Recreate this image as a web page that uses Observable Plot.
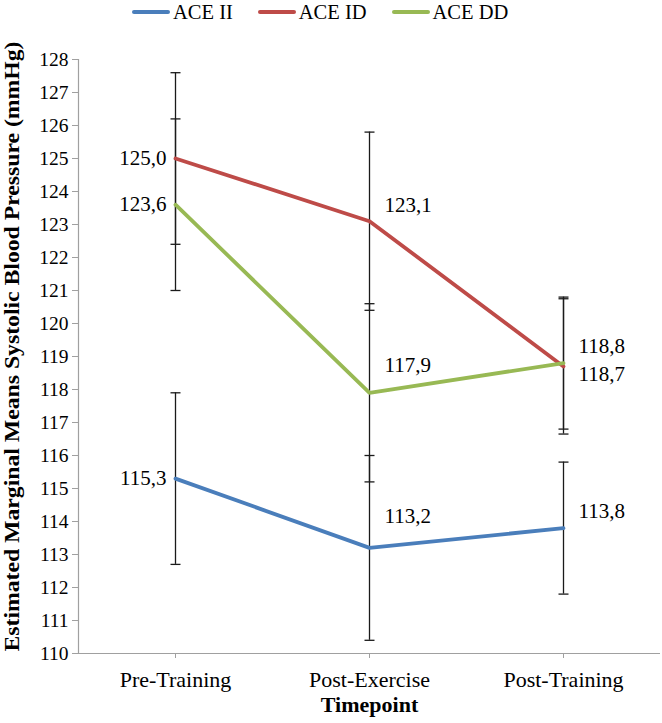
<!DOCTYPE html>
<html>
<head>
<meta charset="utf-8">
<script src="https://cdn.jsdelivr.net/npm/d3@7"></script>
<script src="https://cdn.jsdelivr.net/npm/@observablehq/plot@0.6"></script>
<style>
  body { margin: 0; background: #fff; }
  #wrap { width: 662px; height: 723px; position: relative; font-family: "Liberation Serif", "Times New Roman", Times, "DejaVu Serif", serif; }
  #legend { height: 24px; display: flex; align-items: center; padding-left: 132px; font-size: 20.5px; color: #000; }
  .item { display: flex; align-items: center; margin-right: 25px; }
  .sw { width: 38px; height: 4px; margin-right: 3px; border-radius: 2px; }
  svg { display: block; }
  svg text { font-family: "Liberation Serif", "Times New Roman", Times, "DejaVu Serif", serif; }
</style>
</head>
<body>
<div id="wrap">
  <div id="legend"></div>
  <div id="chart"></div>
</div>
<script>
const timepoints = ["Pre-Training", "Post-Exercise", "Post-Training"];
const seriesNames = ["ACE II", "ACE ID", "ACE DD"];
const seriesColors = ["#4a7ebb", "#be4b48", "#98b954"];
const valuesII = [115.3, 113.2, 113.8];
const valuesID = [125.0, 123.1, 118.7];
const valuesDD = [123.6, 117.9, 118.8];
const errorsII = [2.6, 2.8, 2.0];
const errorsID = [2.6, 2.7, 2.05];
const errorsDD = [2.6, 2.7, 2.0];
const valueLabelsII = ["115,3", "113,2", "113,8"];
const valueLabelsID = ["125,0", "123,1", "118,7"];
const valueLabelsDD = ["123,6", "117,9", "118,8"];
const yTicks = d3.range(110, 129, 1);

const seriesValues = [valuesII, valuesID, valuesDD];
const seriesErrors = [errorsII, errorsID, errorsDD];
const seriesLabels = [valueLabelsII, valueLabelsID, valueLabelsDD];

// label placement (pixel nudges), by series index then timepoint index
const labelDy = [[0, -32, -17], [0, -16, 8], [0, -28, -17]];

const data = [];
seriesNames.forEach((s, si) => {
  timepoints.forEach((t, ti) => {
    data.push({
      series: s, si, t: ti,
      value: seriesValues[si][ti],
      lo: seriesValues[si][ti] - seriesErrors[si][ti],
      hi: seriesValues[si][ti] + seriesErrors[si][ti],
      label: seriesLabels[si][ti]
    });
  });
});

// legend
const legend = document.getElementById("legend");
seriesNames.forEach((s, i) => {
  const it = document.createElement("div");
  it.className = "item";
  it.innerHTML = `<div class="sw" style="background:${seriesColors[i]}"></div><span>${s}</span>`;
  legend.appendChild(it);
});

const capSymbol = {
  draw(context, size) {
    const w = Math.sqrt(size / Math.PI);
    context.moveTo(-w, 0);
    context.lineTo(w, 0);
  }
};

const errColor = "#1a1a1a";
const axisGrey = "#a0a0a0";
const yTitle = "Estimated Marginal Means Systolic Blood Pressure (mmHg)";

const leftLabels = data.filter(d => d.t === 0);
const rightLabelMarks = data.filter(d => d.t > 0).map(d =>
  Plot.text([d], { x: "t", y: "value", text: "label", textAnchor: "start", dx: 15, dy: labelDy[d.si][d.t], fontSize: 21, fill: "#000" })
);

const plot = Plot.plot({
  width: 662,
  height: 699,
  marginTop: 35,
  marginBottom: 70,
  marginLeft: 78,
  marginRight: 2,
  style: { fontFamily: "'Liberation Serif', 'Times New Roman', serif", fontSize: "19px", color: "#000", background: "#fff" },
  x: { type: "linear", domain: [-0.5, 2.5] },
  y: { domain: [110, 128] },
  color: { domain: seriesNames, range: seriesColors },
  marks: [
    Plot.ruleY([110], { stroke: axisGrey, strokeWidth: 1.2 }),
    Plot.ruleX([-0.5], { stroke: axisGrey, strokeWidth: 1.2 }),
    Plot.axisY({ ticks: yTicks, tickSize: 6, tickPadding: 4, stroke: axisGrey, fill: "#000", fontSize: 19.5, label: null }),
    Plot.axisX({ ticks: [0, 1, 2], tickFormat: i => timepoints[i], tickSize: 5, tickPadding: 13, stroke: axisGrey, fill: "#000", fontSize: 22, label: null }),
    Plot.ruleX(data, { x: "t", y1: "lo", y2: "hi", stroke: errColor, strokeWidth: 1.3 }),
    Plot.dot(data, { x: "t", y: "lo", symbol: capSymbol, r: 5, stroke: errColor, strokeWidth: 1.3, fill: "none" }),
    Plot.dot(data, { x: "t", y: "hi", symbol: capSymbol, r: 5, stroke: errColor, strokeWidth: 1.3, fill: "none" }),
    Plot.line(data, { x: "t", y: "value", z: "series", stroke: "series", strokeWidth: 3.8, strokeLinejoin: "miter" }),
    Plot.text(leftLabels, { x: "t", y: "value", text: "label", textAnchor: "end", dx: -9, fontSize: 21, fill: "#000" }),
    ...rightLabelMarks,
    Plot.text(["Timepoint"], { frameAnchor: "bottom", dy: 58, fontSize: 22, fontWeight: "bold", fill: "#000" }),
    Plot.text([yTitle], { frameAnchor: "left", textAnchor: "middle", rotate: -90, dx: -66, dy: -10, fontSize: 20, fontWeight: "bold", fill: "#000" })
  ]
});

document.getElementById("chart").appendChild(plot);
// condense the rotated y title like the original
plot.querySelectorAll("text").forEach(t => {
  if (t.textContent === yTitle) {
    t.setAttribute("textLength", "610");
    t.setAttribute("lengthAdjust", "spacingAndGlyphs");
  }
});
</script>
</body>
</html>
